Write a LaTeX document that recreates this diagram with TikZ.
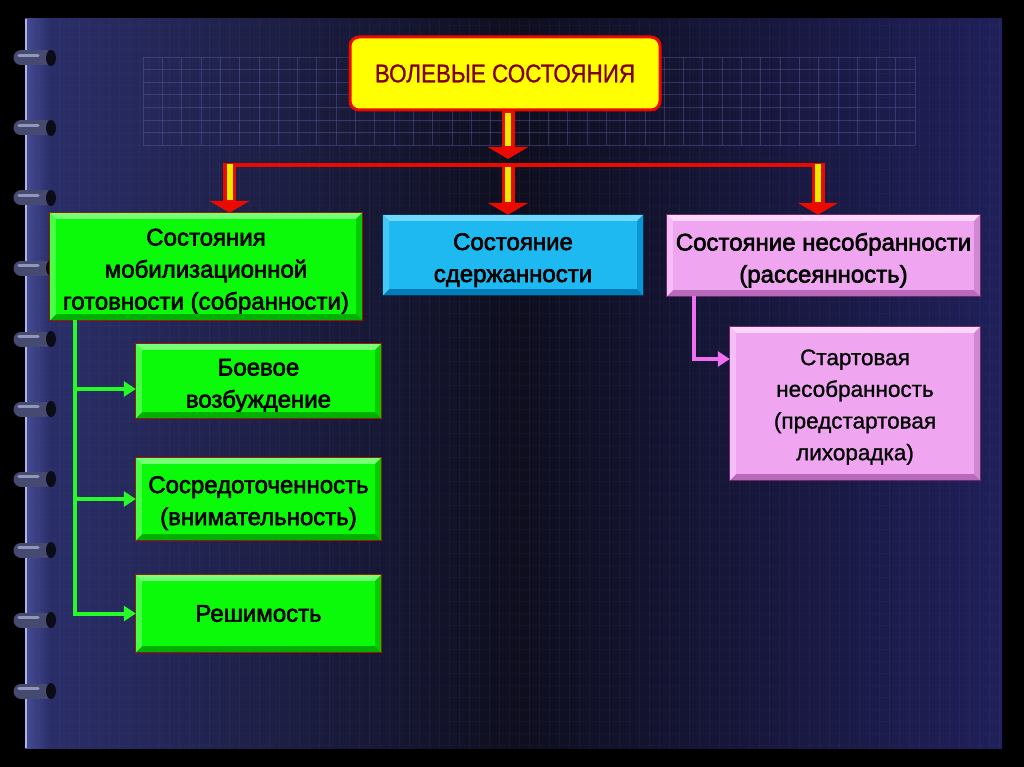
\documentclass[tikz,border=0pt]{standalone}
\usepackage{fontspec}
\setmainfont{Liberation Sans}
\newfontfamily\heavyfont[FakeBold=2.5]{Liberation Sans}
\newfontfamily\midfont[FakeBold=1]{Liberation Sans}
\usetikzlibrary{arrows.meta,calc}
\definecolor{panelL}{RGB}{44,48,108}
\definecolor{panelM}{RGB}{14,14,30}
\definecolor{panelR}{RGB}{32,32,90}
\definecolor{bandc}{RGB}{70,76,150}
\definecolor{stripec}{RGB}{120,120,210}
\definecolor{gridc}{RGB}{90,90,160}
\definecolor{ringc}{RGB}{70,74,112}
\definecolor{ringhi}{RGB}{170,176,215}
\definecolor{ringend}{RGB}{12,12,22}
\definecolor{edgec}{RGB}{175,180,230}
\definecolor{titlefill}{RGB}{255,255,0}
\definecolor{titletext}{RGB}{128,0,0}
\definecolor{arrred}{RGB}{235,10,0}
\definecolor{arryel}{RGB}{235,235,0}
\definecolor{boxgreen}{RGB}{10,250,10}
\definecolor{greenhi}{RGB}{120,255,120}
\definecolor{greenlo}{RGB}{0,175,0}
\definecolor{greenside}{RGB}{70,255,70}
\definecolor{greenside2}{RGB}{0,205,0}
\definecolor{greenborder}{RGB}{150,30,0}
\definecolor{boxblue}{RGB}{30,185,240}
\definecolor{bluehi}{RGB}{115,215,250}
\definecolor{bluelo}{RGB}{0,125,185}
\definecolor{blueside}{RGB}{70,200,245}
\definecolor{blueside2}{RGB}{10,150,210}
\definecolor{blueborder}{RGB}{0,50,90}
\definecolor{boxpink}{RGB}{240,165,240}
\definecolor{pinkhi}{RGB}{252,215,252}
\definecolor{pinklo}{RGB}{185,105,185}
\definecolor{pinkside}{RGB}{246,190,246}
\definecolor{pinkside2}{RGB}{210,135,210}
\definecolor{pinkborder}{RGB}{110,40,110}
\definecolor{lgreen}{RGB}{40,250,40}
\definecolor{lpink}{RGB}{240,110,240}

\newcommand\bevelbox[6]{% name, top, bottom, left, right, border
  \fill[#2] (#1.north west) -- (#1.north east) -- ($(#1.north east)+(-6,6)$) -- ($(#1.north west)+(6,6)$) -- cycle;
  \fill[#3] (#1.south west) -- (#1.south east) -- ($(#1.south east)+(-6,-6)$) -- ($(#1.south west)+(6,-6)$) -- cycle;
  \fill[#4] (#1.north west) -- ($(#1.north west)+(6,6)$) -- ($(#1.south west)+(6,-6)$) -- (#1.south west) -- cycle;
  \fill[#5] (#1.north east) -- ($(#1.north east)+(-6,6)$) -- ($(#1.south east)+(-6,-6)$) -- (#1.south east) -- cycle;
  \draw[#6, line width=1.2pt] (#1.north west) rectangle (#1.south east);
}
\newcommand\fatarrow[2]{%
  \draw[fatred] #1 -- #2;
  \draw[fatyellow] #1 -- #2;
}
\newcommand\dn[1]{\rule{0pt}{#1pt}}

\begin{document}
\begin{tikzpicture}[x=1pt,y=-1pt,
  every node/.style={inner sep=0pt},
  mainfont/.style={font=\fontsize{24}{32}\selectfont\heavyfont, text=black},
  thinfont/.style={font=\fontsize{22.5}{31.7}\selectfont\midfont, text=black},
  gbox/.style={fill=boxgreen, align=center, mainfont},
  bbox/.style={fill=boxblue, align=center, mainfont},
  pbox/.style={fill=boxpink, align=center, mainfont},
  titlebox/.style={fill=titlefill, draw=arrred, line width=3pt, rounded corners=9pt,
    minimum width=310pt, minimum height=73pt, text=titletext,
    font=\fontsize{25.5}{30}\selectfont\midfont},
  fatred/.style={draw=arrred, line width=13pt, -{Triangle[width=40pt 0,length=12pt 0]}},
  fatyellow/.style={draw=arryel, line width=6pt, shorten >=13pt, shorten <=1.5pt},
  redbar/.style={draw=arrred, line width=4.5pt},
  garrow/.style={draw=lgreen, line width=4pt, -{Triangle[width=15pt 0,length=12pt 0]}},
  parrow/.style={draw=lpink, line width=4pt, -{Triangle[width=15pt 0,length=12pt 0]}},
  stripe/.style={draw=stripec, line width=0.8pt, opacity=0.07},
  hstripe/.style={draw=stripec, line width=0.6pt, opacity=0.04},
  gridline/.style={draw=gridc, line width=0.6pt, opacity=0.45}
]
\useasboundingbox (0,0) rectangle (1024,767);
\fill[black] (0,0) rectangle (1024,767);

% panel
\shade[left color=panelL, right color=panelR, middle color=panelM] (25,19) rectangle (1002,748);
\shade[left color=bandc, right color=panelL] (25,19) rectangle (48,748);
\foreach \x in {29,39,...,1000} \draw[stripe] (\x,19) -- (\x,748);
\foreach \y in {25,37,...,745} \draw[hstripe] (25,\y) -- (1002,\y);
\draw[edgec, line width=1.5pt] (25.8,19) -- (25.8,748);

% upper grid
\foreach \i in {0,...,40} \draw[gridline] ({143+\i*19.3},57) -- ({143+\i*19.3},145);
\foreach \j in {0,...,7} \draw[gridline] (143,{57+\j*12.57}) -- (915,{57+\j*12.57});

% rings
\foreach \y in {58,128,198,268,339,409,479,550,620,691} {
  \draw[ringc, line width=15pt, line cap=round] (21,\y) -- (45,\y);
  \draw[ringhi, line width=3.5pt, line cap=round, opacity=0.75] (19,\y-2.5) -- (38,\y-2.5);
  \fill[ringend] (51,\y) ellipse (5pt and 8pt);
}

% title
\node[titlebox] (title) at (505,73.5) {\scalebox{0.88}[1]{ВОЛЕВЫЕ СОСТОЯНИЯ}};

% boxes
\node[gbox, minimum width=312pt, minimum height=107pt] (mob) at (206,266.5)
  {\dn{27}Состояния\\мобилизационной\\готовности (собранности)};
\bevelbox{mob}{greenhi}{greenlo}{greenside}{greenside2}{greenborder}

\node[bbox, minimum width=260pt, minimum height=80pt] (restr) at (513,255)
  {\dn{27}Состояние\\сдержанности};
\bevelbox{restr}{bluehi}{bluelo}{blueside}{blueside2}{blueborder}

\node[pbox, minimum width=313pt, minimum height=81pt] (dis) at (823.5,255.5)
  {\dn{27}Состояние несобранности\\(рассеянность)};
\bevelbox{dis}{pinkhi}{pinklo}{pinkside}{pinkside2}{pinkborder}

\node[pbox, thinfont, minimum width=250pt, minimum height=153pt] (start) at (855,403.5)
  {\dn{23}Стартовая\\несобранность\\(предстартовая\\лихорадка)};
\bevelbox{start}{pinkhi}{pinklo}{pinkside}{pinkside2}{pinkborder}

\node[gbox, minimum width=245pt, minimum height=74pt] (fight) at (258.5,381)
  {\dn{26}Боевое\\возбуждение};
\bevelbox{fight}{greenhi}{greenlo}{greenside}{greenside2}{greenborder}

\node[gbox, minimum width=245pt, minimum height=82pt] (focus) at (258.5,499)
  {\dn{25}Сосредоточенность\\(внимательность)};
\bevelbox{focus}{greenhi}{greenlo}{greenside}{greenside2}{greenborder}

\node[gbox, minimum width=245pt, minimum height=77pt] (resol) at (258.5,613.5)
  {Решимость};
\bevelbox{resol}{greenhi}{greenlo}{greenside}{greenside2}{greenborder}

% red connectors
\coordinate (jm) at (508,159);
\coordinate (bl) at (229.5,163);
\coordinate (bc) at (508,166);
\coordinate (br) at (818,163);
\fatarrow{(jm |- title.south)}{(jm)}
\draw[redbar] ([xshift=-4pt]bl |- 0,165) -- ([xshift=4pt]br |- 0,165);
\fatarrow{(bl)}{(bl |- mob.north)}
\fatarrow{(bc)}{(bc |- restr.north)}
\fatarrow{(br)}{(br |- dis.north)}

% green connectors
\coordinate (gt) at ([xshift=25.5pt]mob.south west);
\draw[garrow] (gt) |- ([yshift=-8pt]fight.west);
\draw[garrow] (gt) |- (focus.west);
\draw[garrow] (gt) |- (resol.west);

% pink connector
\coordinate (pt) at ([xshift=27.5pt]dis.south west);
\draw[parrow] (pt) |- ([yshift=44.5pt]start.west);
\end{tikzpicture}
\end{document}
